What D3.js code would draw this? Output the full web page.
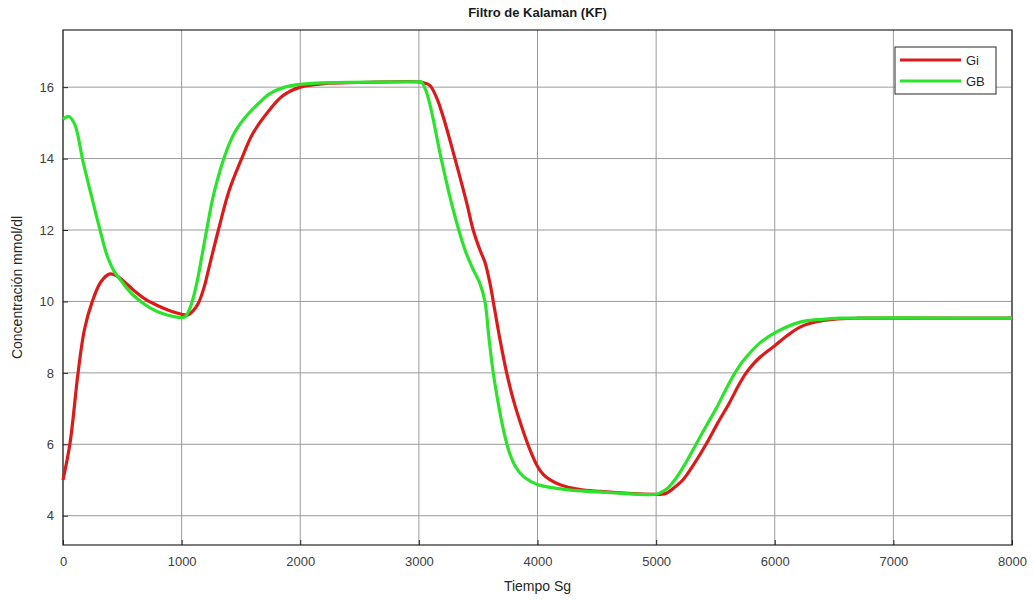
<!DOCTYPE html>
<html>
<head>
<meta charset="utf-8">
<script src="https://cdn.jsdelivr.net/npm/d3@7"></script>
<style>
  body { margin: 0; background: #fff; }
  svg { display: block; font-family: "Liberation Sans", Arial, sans-serif; }
</style>
</head>
<body>
<div id="chart"></div>
<script>
// tiempo (s) y concentración
var giData = [
  [0, 5.0], [60, 6.05], [127, 8.0], [180, 9.2], [245, 9.98], [320, 10.55],
  [396, 10.77], [450, 10.72], [500, 10.6], [600, 10.3], [700, 10.05], [800, 9.88],
  [900, 9.74], [1000, 9.64], [1050, 9.62], [1100, 9.75], [1141, 9.95], [1190, 10.4],
  [1220, 10.8], [1310, 12.0], [1400, 13.1], [1506, 14.0], [1600, 14.7], [1717, 15.26],
  [1850, 15.75], [2000, 16.0], [2200, 16.1], [2500, 16.13], [3000, 16.15], [3040, 16.12],
  [3092, 16.05], [3150, 15.7], [3205, 15.17], [3304, 14.0], [3400, 12.8], [3458, 12.0],
  [3515, 11.44], [3557, 11.1], [3600, 10.5], [3627, 10.0], [3680, 9.0], [3740, 8.0],
  [3800, 7.2], [3866, 6.5], [3930, 5.9], [4000, 5.38], [4050, 5.15],
  [4100, 5.02], [4190, 4.87], [4350, 4.74], [4527, 4.68], [4800, 4.62], [5000, 4.6],
  [5050, 4.6], [5085, 4.63], [5150, 4.78], [5225, 5.0], [5320, 5.45], [5421, 6.0],
  [5520, 6.6], [5616, 7.15], [5700, 7.68], [5759, 8.0], [5820, 8.25], [5880, 8.45],
  [6000, 8.76], [6100, 9.03], [6213, 9.28], [6350, 9.43], [6490, 9.5], [6700, 9.53],
  [7000, 9.53], [8000, 9.53]
];

var gbData = [
  [0, 15.1], [50, 15.18], [100, 14.95], [170, 13.9], [240, 12.95], [312, 12.0],
  [370, 11.3], [430, 10.85], [497, 10.55], [590, 10.18], [733, 9.82], [850, 9.65],
  [1000, 9.55], [1030, 9.57], [1080, 9.9], [1127, 10.5], [1170, 11.25], [1211, 12.0],
  [1260, 12.85], [1310, 13.5], [1351, 13.95], [1400, 14.4], [1450, 14.75], [1500, 15.0],
  [1548, 15.2], [1650, 15.55], [1745, 15.82], [1870, 16.0], [2000, 16.08], [2300, 16.13],
  [3000, 16.15], [3020, 16.15], [3060, 15.9], [3104, 15.36], [3188, 14.0], [3290, 12.56],
  [3389, 11.44], [3450, 10.95], [3515, 10.5], [3557, 10.0], [3590, 9.0], [3627, 8.0],
  [3680, 6.95], [3720, 6.3], [3760, 5.8], [3810, 5.4], [3880, 5.1], [3950, 4.95],
  [4000, 4.87], [4246, 4.73], [4600, 4.65], [5000, 4.6], [5040, 4.65], [5100, 4.78],
  [5168, 5.05], [5250, 5.48], [5337, 6.0], [5420, 6.5], [5506, 7.0], [5590, 7.55],
  [5665, 8.0], [5720, 8.28], [5775, 8.5], [5875, 8.84], [6000, 9.12], [6213, 9.42],
  [6400, 9.5], [6550, 9.53], [8000, 9.53]
];

var xTicks = [0, 1000, 2000, 3000, 4000, 5000, 6000, 7000, 8000];
var yTicks = [4, 6, 8, 10, 12, 14, 16];

var series = [
  { name: "Gi", values: giData, color: "#dc1a1a" },
  { name: "GB", values: gbData, color: "#2be32b" }
];

var width = 1034,
  height = 600,
  margin = { top: 30, right: 22, bottom: 55, left: 63 },
  innerWidth = width - margin.left - margin.right,
  innerHeight = height - margin.top - margin.bottom;

var svg = d3.select("#chart").append("svg")
  .attr("width", width)
  .attr("height", height);

var g = svg.append("g")
  .attr("transform", "translate(" + margin.left + "," + margin.top + ")");

var xScale = d3.scaleLinear().domain([0, 8000]).range([0, innerWidth]);
var yScale = d3.scaleLinear().domain([3.18, 17.6]).range([innerHeight, 0]);

// rejilla
g.append("g").attr("class", "grid")
  .selectAll("line").data(xTicks).enter().append("line")
  .attr("x1", function (d) { return xScale(d); })
  .attr("x2", function (d) { return xScale(d); })
  .attr("y1", 0).attr("y2", innerHeight)
  .attr("stroke", "#9a9a9a").attr("stroke-width", 1);

g.append("g").attr("class", "grid")
  .selectAll("line").data(yTicks).enter().append("line")
  .attr("y1", function (d) { return yScale(d); })
  .attr("y2", function (d) { return yScale(d); })
  .attr("x1", 0).attr("x2", innerWidth)
  .attr("stroke", "#9a9a9a").attr("stroke-width", 1);

// ejes
var xAxis = g.append("g")
  .attr("transform", "translate(0," + innerHeight + ")")
  .call(d3.axisBottom(xScale).tickValues(xTicks).tickFormat(d3.format("d"))
    .tickSizeInner(-5).tickSizeOuter(0).tickPadding(12));

var yAxis = g.append("g")
  .call(d3.axisLeft(yScale).tickValues(yTicks).tickFormat(d3.format("d"))
    .tickSizeInner(-5).tickSizeOuter(0).tickPadding(9));

[xAxis, yAxis].forEach(function (a) {
  a.select(".domain").remove();
  a.selectAll("line").attr("stroke", "#262626");
  a.selectAll("text").attr("fill", "#404040").style("font-size", "13px");
});

g.append("rect")
  .attr("width", innerWidth)
  .attr("height", innerHeight)
  .attr("fill", "none")
  .attr("stroke", "#262626")
  .attr("stroke-width", 1.2);

// curvas
var line = d3.line()
  .x(function (d) { return xScale(d[0]); })
  .y(function (d) { return yScale(d[1]); })
  .curve(d3.curveCatmullRom.alpha(0.5));

g.selectAll(".serie").data(series).enter().append("path")
  .attr("class", "serie")
  .attr("d", function (d) { return line(d.values); })
  .attr("fill", "none")
  .attr("stroke", function (d) { return d.color; })
  .attr("stroke-width", 3.2)
  .attr("stroke-linejoin", "round");

// leyenda
var legend = svg.append("g").attr("transform", "translate(895,47)");
legend.append("rect")
  .attr("width", 101).attr("height", 47)
  .attr("fill", "#fff").attr("stroke", "#262626").attr("stroke-width", 1);

var items = legend.selectAll(".item").data(series).enter().append("g")
  .attr("transform", function (d, i) { return "translate(0," + (13 + i * 21) + ")"; });
items.append("line")
  .attr("x1", 5).attr("x2", 66)
  .attr("stroke", function (d) { return d.color; })
  .attr("stroke-width", 3.2);
items.append("text")
  .attr("x", 71).attr("dy", "0.35em")
  .attr("fill", "#262626")
  .style("font-size", "13px")
  .text(function (d) { return d.name; });

// textos
svg.append("text")
  .attr("x", margin.left + innerWidth / 2).attr("y", 17)
  .attr("text-anchor", "middle")
  .style("font-size", "13px").style("font-weight", "bold")
  .attr("fill", "#1a1a1a")
  .text("Filtro de Kalaman (KF)");

svg.append("text")
  .attr("x", margin.left + innerWidth / 2).attr("y", 591)
  .attr("text-anchor", "middle")
  .style("font-size", "14px")
  .attr("fill", "#262626")
  .text("Tiempo Sg");

svg.append("text")
  .attr("transform", "translate(22," + (margin.top + innerHeight / 2) + ") rotate(-90)")
  .attr("text-anchor", "middle")
  .style("font-size", "14px")
  .attr("fill", "#262626")
  .text("Concentración mmol/dl");
</script>
</body>
</html>
